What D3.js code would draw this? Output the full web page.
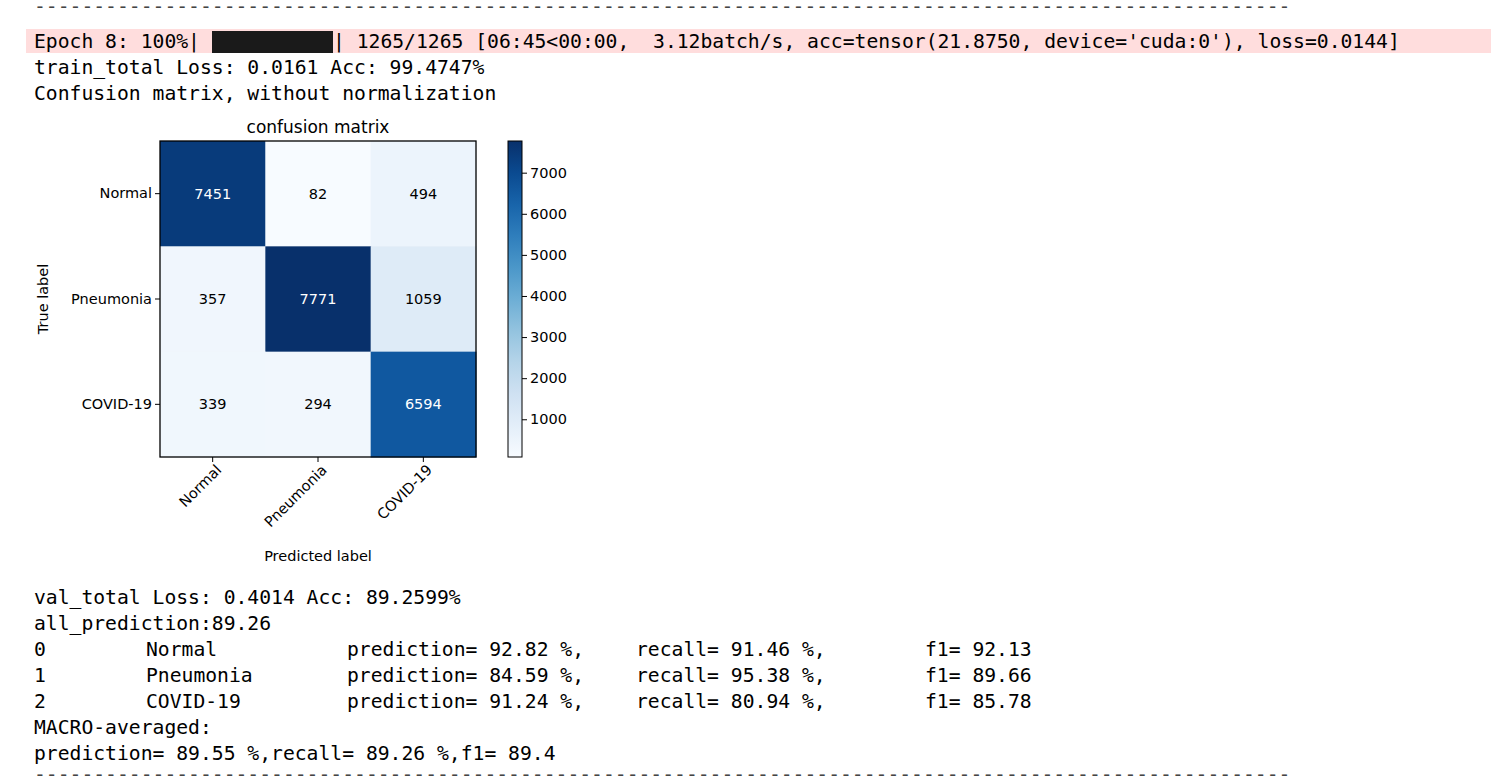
<!DOCTYPE html><html><head><meta charset="utf-8">
<script src="https://cdn.jsdelivr.net/npm/d3@7"></script>
<style>body{margin:0;background:#fff}</style></head><body>
<svg id="c" width="1491" height="784" font-family="DejaVu Sans"></svg>
<script>
const classes=["Normal","Pneumonia","COVID-19"];
const matrix=[[7451,82,494],[357,7771,1059],[339,294,6594]];
const cbTicks=[1000,2000,3000,4000,5000,6000,7000];
const metrics=[["0","Normal","92.82","91.46","92.13"],["1","Pneumonia","84.59","95.38","89.66"],["2","COVID-19","91.24","80.94","85.78"]];
const headerLines=["Epoch 8: 100%|","train_total Loss: 0.0161 Acc: 99.4747%","Confusion matrix, without normalization"];
const footerLines=["val_total Loss: 0.4014 Acc: 89.2599%","all_prediction:89.26"];
const macroLines=["MACRO-averaged:","prediction= 89.55 %,recall= 89.26 %,f1= 89.4"];

const svg=d3.select("#c");
const mono=t=>t.attr("font-family","DejaVu Sans Mono").attr("font-size",19.7).attr("fill","#000").attr("xml:space","preserve");
const dash="-".repeat(106);
mono(svg.append("text").attr("x",34).attr("y",13).text(dash)).attr("fill","#444");
mono(svg.append("text").attr("x",34).attr("y",781).text(dash)).attr("fill","#444");
svg.append("rect").attr("x",26).attr("y",29).attr("width",1465).attr("height",24).attr("fill","#fdd");
mono(svg.append("text").attr("x",34).attr("y",48).text(headerLines[0]));
svg.append("rect").attr("x",212).attr("y",31).attr("width",121).attr("height",22).attr("fill","#1a1a1a");
mono(svg.append("text").attr("x",333).attr("y",48).text("| 1265/1265 [06:45<00:00,  3.12batch/s, acc=tensor(21.8750, device='cuda:0'), loss=0.0144]"));
mono(svg.append("text").attr("x",34).attr("y",74).text(headerLines[1]));
mono(svg.append("text").attr("x",34).attr("y",100).text(headerLines[2]));
footerLines.forEach((l,i)=>mono(svg.append("text").attr("x",34).attr("y",604+26*i).text(l)));
metrics.forEach((m,i)=>{const y=656+26*i;
 [[34,m[0]],[146,m[1]],[347,"prediction= "+m[2]+" %,"],[636,"recall= "+m[3]+" %,"],[925,"f1= "+m[4]]].forEach(([x,t])=>mono(svg.append("text").attr("x",x).attr("y",y).text(t)));});
macroLines.forEach((l,i)=>mono(svg.append("text").attr("x",34).attr("y",734+26*i).text(l)));

const L=160,T=141,S=316;
const x=d3.scaleBand().domain(d3.range(3)).range([L,L+S]);
const y=d3.scaleBand().domain(d3.range(3)).range([T,T+S]);
const vmin=d3.min(matrix.flat()),vmax=d3.max(matrix.flat());
const col=d3.scaleSequential(d3.interpolateBlues).domain([vmin,vmax]);
const g=svg.append("g");
matrix.forEach((row,i)=>row.forEach((v,j)=>{
 g.append("rect").attr("x",x(j)).attr("y",y(i)).attr("width",x.bandwidth()+0.5).attr("height",y.bandwidth()+0.5).attr("fill",col(v));
 g.append("text").attr("x",x(j)+x.bandwidth()/2).attr("y",y(i)+y.bandwidth()/2+5).attr("text-anchor","middle").attr("font-size",14.5).attr("fill",v>vmax/2?"#fff":"#000").text(v);
}));
g.append("rect").attr("x",L).attr("y",T).attr("width",S).attr("height",S).attr("fill","none").attr("stroke","#000").attr("stroke-width",1.3);
const ax=svg.append("g").attr("transform",`translate(0,${T+S})`).call(d3.axisBottom(x).tickFormat(i=>classes[i]).tickSize(5));
ax.select(".domain").remove();
ax.selectAll("text").attr("font-size",14.5).attr("font-family","DejaVu Sans").attr("fill","#000").attr("text-anchor","end").attr("transform","rotate(-45)").attr("dx","-0.2em").attr("dy","0.6em");
const ay=svg.append("g").attr("transform",`translate(${L},0)`).call(d3.axisLeft(y).tickFormat(i=>classes[i]).tickSize(5));
ay.select(".domain").remove();
ay.selectAll("text").attr("font-size",14.5).attr("font-family","DejaVu Sans").attr("fill","#000");
svg.append("text").attr("x",L+S/2).attr("y",133).attr("text-anchor","middle").attr("font-size",17).text("confusion matrix");
svg.append("text").attr("x",L+S/2).attr("y",561).attr("text-anchor","middle").attr("font-size",14.5).text("Predicted label");
svg.append("text").attr("transform",`translate(48,${T+S/2}) rotate(-90)`).attr("text-anchor","middle").attr("font-size",14.5).text("True label");

const cbX=508,cbW=14;
const cy=d3.scaleLinear().domain([vmin,vmax]).range([T+S,T]);
const defs=svg.append("defs");const gr=defs.append("linearGradient").attr("id","gb").attr("x1",0).attr("y1",1).attr("x2",0).attr("y2",0);
d3.range(0,1.01,0.1).forEach(t=>gr.append("stop").attr("offset",t).attr("stop-color",d3.interpolateBlues(t)));
svg.append("rect").attr("x",cbX).attr("y",T).attr("width",cbW).attr("height",S).attr("fill","url(#gb)").attr("stroke","#000").attr("stroke-width",1);
const ac=svg.append("g").attr("transform",`translate(${cbX+cbW},0)`).call(d3.axisRight(cy).tickValues(cbTicks).tickFormat(d3.format("d")).tickSize(5));
ac.select(".domain").remove();
ac.selectAll("text").attr("font-size",14.5).attr("font-family","DejaVu Sans").attr("fill","#000");
</script></body></html>
